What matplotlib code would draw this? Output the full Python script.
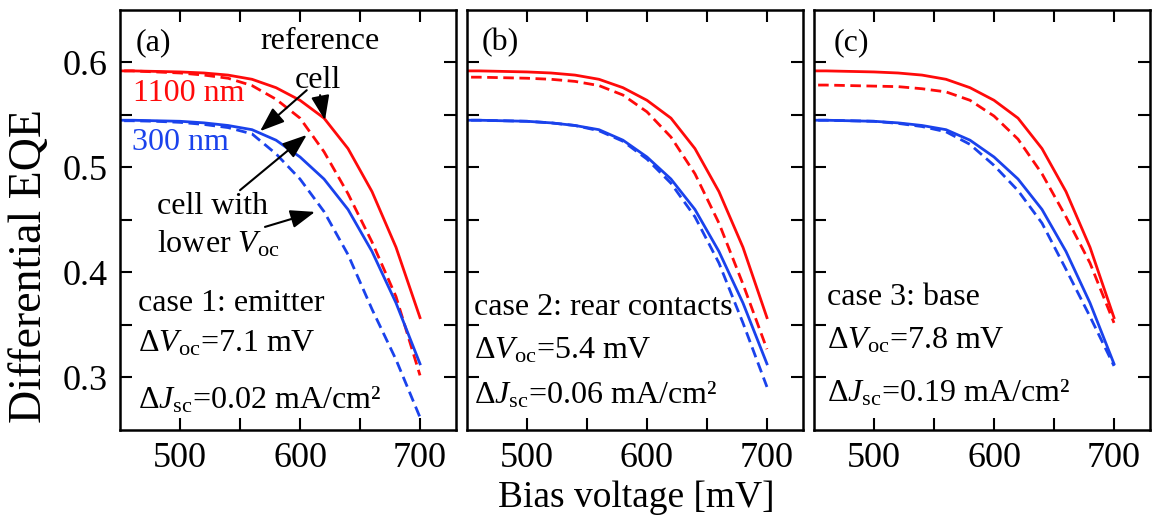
import numpy as np
import matplotlib
matplotlib.use('Agg')
import matplotlib.pyplot as plt

# Serif font like Times
plt.rcParams['font.family'] = ['Liberation Serif', 'DejaVu Serif']
plt.rcParams['mathtext.fontset'] = 'custom'
plt.rcParams['mathtext.rm'] = 'Liberation Serif'
plt.rcParams['mathtext.it'] = 'Liberation Serif:italic'
plt.rcParams['mathtext.bf'] = 'Liberation Serif:bold'

# bias voltage [mV]
voltage = [440, 460, 480, 500, 520, 540, 560, 580, 600, 620, 640, 660, 680, 700]

# reference cell (solid lines)
ref_1100 = [0.592, 0.592, 0.5915, 0.591, 0.590, 0.588, 0.584, 0.576, 0.564, 0.547, 0.518, 0.477, 0.424, 0.357]
ref_300 = [0.545, 0.545, 0.5445, 0.544, 0.5425, 0.540, 0.536, 0.526, 0.510, 0.489, 0.460, 0.420, 0.371, 0.313]

# cell with lower Voc (dashed lines)
low_1100 = {
    'a': [0.592, 0.592, 0.591, 0.590, 0.588, 0.585, 0.578, 0.565, 0.547, 0.515, 0.475, 0.429, 0.377, 0.302],
    'b': [0.586, 0.586, 0.5855, 0.585, 0.584, 0.582, 0.578, 0.569, 0.553, 0.529, 0.494, 0.447, 0.389, 0.327],
    'c': [0.5785, 0.5785, 0.578, 0.5775, 0.577, 0.575, 0.572, 0.564, 0.549, 0.527, 0.494, 0.453, 0.409, 0.352],
}
low_300 = {
    'a': [0.5445, 0.5445, 0.544, 0.543, 0.541, 0.538, 0.532, 0.513, 0.489, 0.458, 0.417, 0.365, 0.317, 0.262],
    'b': [0.545, 0.545, 0.5445, 0.544, 0.5425, 0.540, 0.535, 0.525, 0.508, 0.485, 0.453, 0.409, 0.352, 0.291],
    'c': [0.545, 0.545, 0.5445, 0.544, 0.542, 0.539, 0.534, 0.522, 0.502, 0.478, 0.447, 0.403, 0.358, 0.311],
}

panels = ['a', 'b', 'c']
cases = ['case 1: emitter', 'case 2: rear contacts', 'case 3: base']
dvoc = ['7.1', '5.4', '7.8']
djsc = ['0.02', '0.06', '0.19']

red = '#ff0a0a'
blue = '#1a42ec'

fig = plt.figure(figsize=(11.53, 5.2), dpi=100)
lefts = [0.1041, 0.4050, 0.7060]

# text positions per panel (axes fraction)
txt_x = [0.054, 0.021, 0.039]
txt_y = [(0.284, 0.186, 0.052), (0.274, 0.171, 0.064), (0.298, 0.194, 0.067)]
lab_x = [0.045, 0.045, 0.057]

for i, p in enumerate(panels):
    ax = fig.add_axes([lefts[i], 0.1731, 0.2914, 0.8077])
    ax.plot(voltage, ref_1100, color=red, lw=2.0)
    ax.plot(voltage, low_1100[p], color=red, lw=2.0, dashes=(3.8, 2))
    ax.plot(voltage, ref_300, color=blue, lw=2.0)
    ax.plot(voltage, low_300[p], color=blue, lw=2.0, dashes=(3.8, 2))

    ax.set_xlim(450, 730)
    ax.set_ylim(0.25, 0.65)
    ax.set_xticks([500, 600, 700])
    ax.set_xticks([550, 650], minor=True)
    ax.set_yticks([0.3, 0.4, 0.5, 0.6])
    ax.set_yticks([0.35, 0.45, 0.55], minor=True)
    ax.tick_params(which='both', direction='in', top=True, right=True,
                   length=8.5, width=1.5, labelsize=26)
    ax.tick_params(axis='x', pad=9)
    ax.tick_params(axis='y', pad=9)
    if i > 0:
        ax.set_yticklabels([])
    for s in ax.spines.values():
        s.set_linewidth(1.8)

    ax.text(lab_x[i], 0.905, '(%s)' % p, transform=ax.transAxes, fontsize=23)
    ty = txt_y[i]
    ax.text(txt_x[i], ty[0], cases[i], transform=ax.transAxes, fontsize=23)
    ax.text(txt_x[i], ty[1], 'Δ$V_{\\rm oc}$=%s mV' % dvoc[i], transform=ax.transAxes, fontsize=23)
    ax.text(txt_x[i], ty[2], 'Δ$J_{\\rm sc}$=%s mA/cm²' % djsc[i], transform=ax.transAxes, fontsize=23)

    if p == 'a':
        ax.text(0.417, 0.906, 'reference', transform=ax.transAxes, fontsize=23)
        ax.text(0.521, 0.814, 'cell', transform=ax.transAxes, fontsize=23)
        ax.text(0.039, 0.784, '1100 nm', transform=ax.transAxes, fontsize=23, color=red)
        ax.text(0.036, 0.667, '300 nm', transform=ax.transAxes, fontsize=23, color=blue)
        ax.text(0.110, 0.514, 'cell with', transform=ax.transAxes, fontsize=23)
        ax.text(0.110, 0.422, 'lower $V_{\\rm oc}$', transform=ax.transAxes, fontsize=23)
        arrow = dict(arrowstyle='-|>,head_length=0.75,head_width=0.28', color='k',
                     lw=1.5, mutation_scale=20, shrinkA=0, shrinkB=0)
        ax.annotate('', xy=(566.7, 0.5346), xytext=(605.6, 0.5736), arrowprops=arrow)
        ax.annotate('', xy=(620.8, 0.545), xytext=(616.7, 0.5689), arrowprops=arrow)
        ax.annotate('', xy=(605.6, 0.531), xytext=(550, 0.4784), arrowprops=arrow)
        ax.annotate('', xy=(612.5, 0.4577), xytext=(570.8, 0.4434), arrowprops=arrow)

fig.text(0.026, 0.488, 'Differential EQE', rotation=90, fontsize=33, ha='center', va='center')
fig.text(0.552, 0.025, 'Bias voltage [mV]', fontsize=27, ha='center', va='baseline')

fig.savefig('out.png', dpi=100)
